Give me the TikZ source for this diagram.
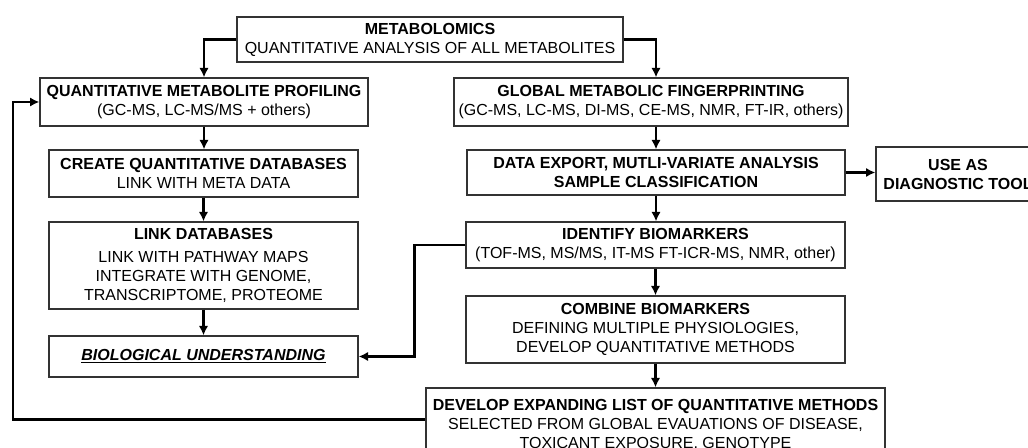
\documentclass[tikz,border=0pt]{standalone}
\usepackage{fontspec}
\setmainfont{Liberation Sans}
\usetikzlibrary{arrows.meta,calc}
\begin{document}
\begin{tikzpicture}[x=0.75pt,y=-0.75pt,
  box/.style={draw=black!80, line width=1pt, fill=white, inner sep=0pt, align=center,
    font=\fontsize{12}{14.25}\selectfont},
  arr/.style={line width=2.2pt, -{Latex[length=7pt,width=7pt]}},
  conn/.style={line width=2.2pt}]
\clip (0,0) rectangle (1028,448);
\fill[white] (0,0) rectangle (1028,448);
% left column
\node[box, minimum width=386*0.75pt, minimum height=45*0.75pt] (meta) at (430,39.5)
  {\textbf{METABOLOMICS}\\QUANTITATIVE ANALYSIS OF ALL METABOLITES};
\node[box, minimum width=328*0.75pt, minimum height=48*0.75pt] (qmp) at (204,102)
  {\textbf{QUANTITATIVE METABOLITE PROFILING}\\(GC-MS, LC-MS/MS + others)};
\node[box, minimum width=309*0.75pt, minimum height=47*0.75pt] (cqd) at (203.5,173.5)
  {\textbf{CREATE QUANTITATIVE DATABASES}\\LINK WITH META DATA};
\node[box, minimum width=309*0.75pt, minimum height=87*0.75pt] (ld) at (203.5,265.5)
  {\textbf{LINK DATABASES}\\[3pt]LINK WITH PATHWAY MAPS\\INTEGRATE WITH GENOME,\\TRANSCRIPTOME, PROTEOME};
\node[box, minimum width=309*0.75pt, minimum height=41*0.75pt] (bu) at (203.5,356.5)
  {\underline{\textbf{\textit{BIOLOGICAL UNDERSTANDING}}}};
% right column
\node[box, minimum width=394*0.75pt, minimum height=48*0.75pt] (gmf) at (651,102)
  {\textbf{GLOBAL METABOLIC FINGERPRINTING}\\(GC-MS, LC-MS, DI-MS, CE-MS, NMR, FT-IR, others)};
\node[box, minimum width=378*0.75pt, minimum height=45*0.75pt] (dema) at (656,172.5)
  {\textbf{DATA EXPORT, MUTLI-VARIATE ANALYSIS}\\\textbf{SAMPLE CLASSIFICATION}};
\node[box, minimum width=164*0.75pt, minimum height=54*0.75pt] (diag) at (958,174)
  {\textbf{USE AS}\\\textbf{DIAGNOSTIC TOOL}};
\node[box, minimum width=379*0.75pt, minimum height=46*0.75pt] (ib) at (655.5,245)
  {\textbf{IDENTIFY BIOMARKERS}\\(TOF-MS, MS/MS, IT-MS FT-ICR-MS, NMR, other)};
\node[box, minimum width=379*0.75pt, minimum height=67*0.75pt] (cb) at (655.5,329.5)
  {\textbf{COMBINE BIOMARKERS}\\DEFINING MULTIPLE PHYSIOLOGIES,\\DEVELOP QUANTITATIVE METHODS};
\node[box, minimum width=459*0.75pt, minimum height=74*0.75pt] (dev) at (655.5,425)
  {\textbf{DEVELOP EXPANDING LIST OF QUANTITATIVE METHODS}\\SELECTED FROM GLOBAL EVAUATIONS OF DISEASE,\\TOXICANT EXPOSURE, GENOTYPE};
% connectors
\coordinate (fbx) at (13,0);
\coordinate (devw) at ($(dev.north west)+(0,32)$);
\draw[arr] (meta.west) -| (qmp.north);
\draw[arr] (meta.east) -| (gmf.north -| dema.north);
\draw[arr] (qmp.south) -- (qmp.south |- cqd.north);
\draw[arr] (cqd.south) -- (ld.north);
\draw[arr] (ld.south) -- (bu.north);
\draw[arr] (gmf.south -| dema.north) -- (dema.north);
\draw[arr] (dema.south) -- (dema.south |- ib.north);
\draw[arr] (ib.south) -- (cb.north);
\draw[arr] (cb.south) -- (dev.north);
\draw[arr] (dema.east) -- (diag.west |- dema.east);
\draw[arr] (ib.west) -- ++(-51,0) |- (bu.east);
\draw[arr] (devw) -- (devw -| fbx) |- (qmp.west);
\end{tikzpicture}
\end{document}
